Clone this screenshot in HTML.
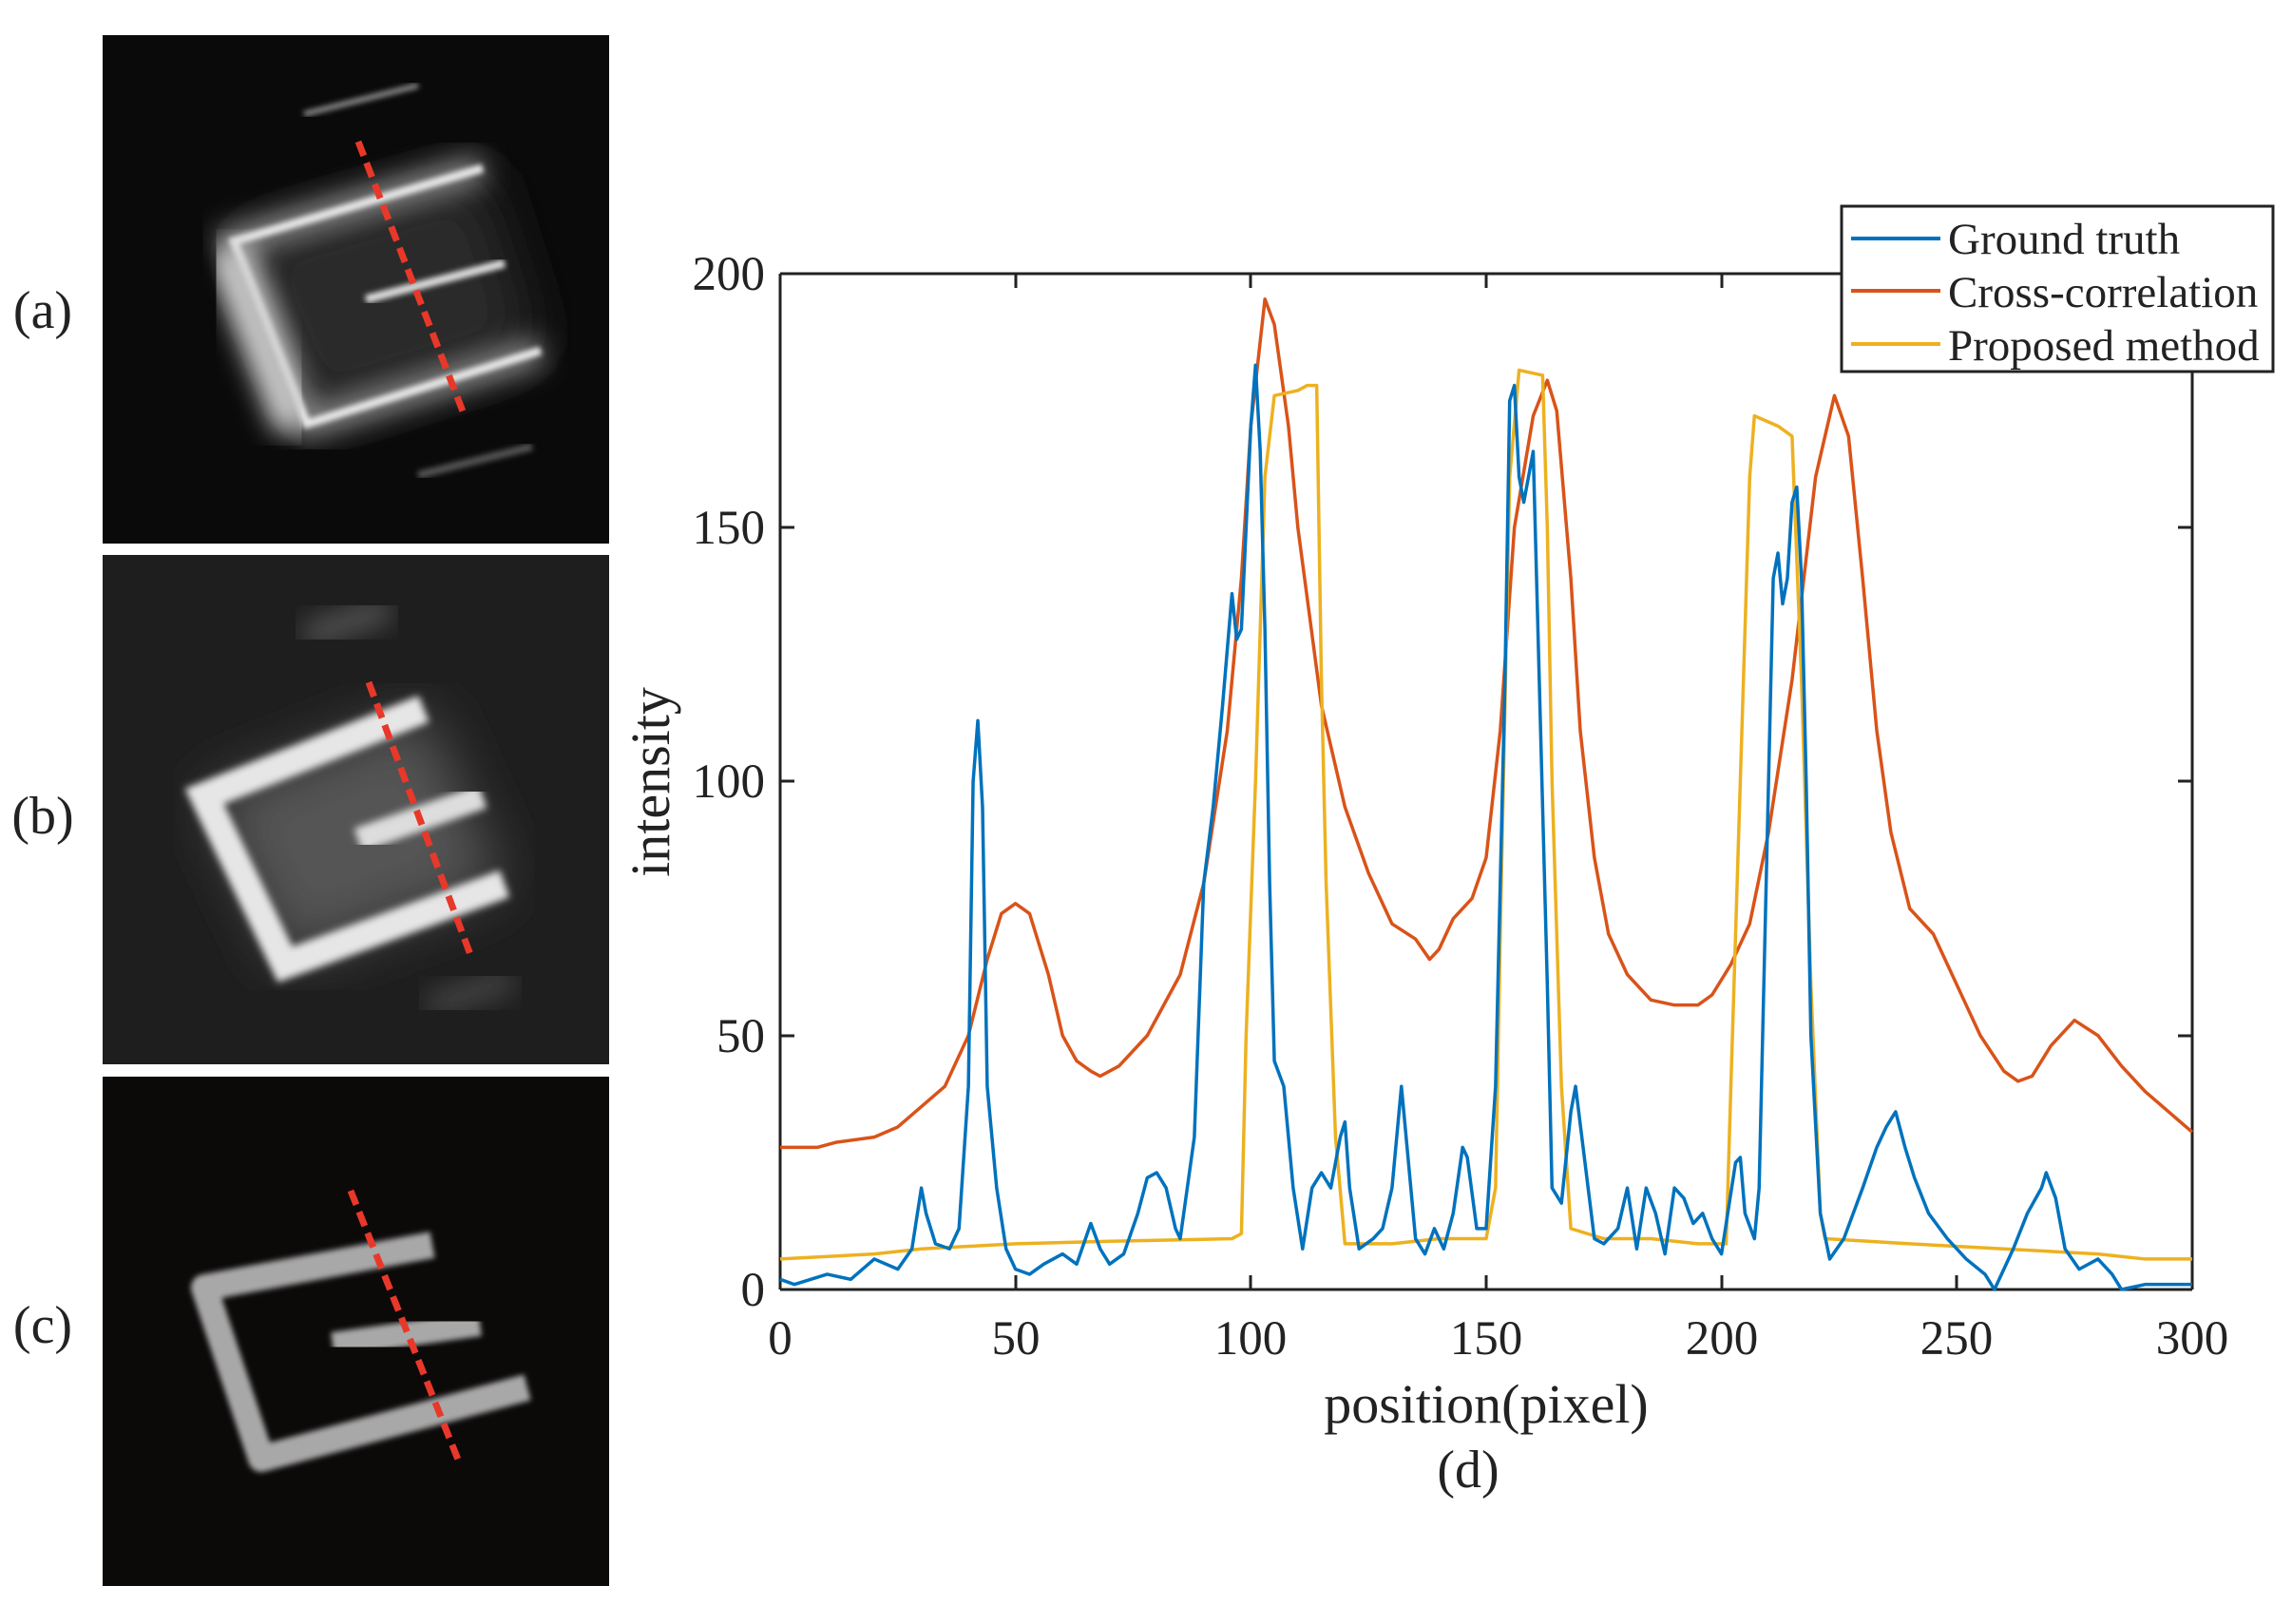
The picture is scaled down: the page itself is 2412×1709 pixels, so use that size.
<!DOCTYPE html>
<html><head><meta charset="utf-8"><style>
html,body{margin:0;padding:0;background:#fff;}
svg{display:block;}
text{font-family:"Liberation Serif",serif;fill:#222;}
</style></head><body>
<svg width="2412" height="1709" viewBox="0 0 2412 1709" xmlns="http://www.w3.org/2000/svg">
<defs>
<filter id="b1"><feGaussianBlur stdDeviation="4"/></filter>
<filter id="b2"><feGaussianBlur stdDeviation="14"/></filter>
<filter id="b3"><feGaussianBlur stdDeviation="3"/></filter>
<filter id="b4"><feGaussianBlur stdDeviation="30"/></filter>
<clipPath id="ca"><rect x="108" y="37" width="533" height="535"/></clipPath>
<clipPath id="cb"><rect x="108" y="584" width="533" height="536"/></clipPath>
<clipPath id="cc"><rect x="108" y="1133" width="533" height="536"/></clipPath>
</defs>
<g clip-path="url(#ca)">
<rect x="108" y="37" width="533" height="535" fill="#0a0a0a"/>
<polygon points="246,254 508,177 569,369 323,446" fill="#2a2a2a" filter="url(#b4)"/>
<polyline points="508,177 246,254 323,446 569,369" fill="none" stroke="#888" stroke-width="30" filter="url(#b2)"/>
<polyline points="508,177 246,254 323,446 569,369" fill="none" stroke="#e8e8e8" stroke-width="9" filter="url(#b3)"/>
<line x1="235" y1="260" x2="310" y2="450" stroke="#ccc" stroke-width="40" filter="url(#b2)"/>
<line x1="385" y1="315" x2="531" y2="277" stroke="#ddd" stroke-width="9" filter="url(#b3)"/>
<line x1="320" y1="120" x2="440" y2="90" stroke="#888" stroke-width="6" filter="url(#b3)"/>
<line x1="440" y1="500" x2="560" y2="470" stroke="#555" stroke-width="8" filter="url(#b3)"/>
<line x1="377" y1="149" x2="489" y2="438" stroke="#e8382a" stroke-width="7" stroke-dasharray="16,8"/>
</g>
<g clip-path="url(#cb)">
<rect x="108" y="584" width="533" height="536" fill="#1e1e1e"/>
<polygon points="215,838 446,746 531,930 300,1015" fill="#555" filter="url(#b4)"/>
<polyline points="446,746 215,838 300,1015 531,930" fill="none" stroke="#e6e6e6" stroke-width="30" filter="url(#b1)"/>
<line x1="377" y1="884" x2="508" y2="838" stroke="#ddd" stroke-width="26" filter="url(#b1)"/>
<line x1="320" y1="670" x2="410" y2="640" stroke="#555" stroke-width="26" filter="url(#b2)"/>
<line x1="450" y1="1060" x2="540" y2="1030" stroke="#444" stroke-width="26" filter="url(#b2)"/>
<line x1="388" y1="718" x2="497" y2="1010" stroke="#e8382a" stroke-width="7" stroke-dasharray="16,8"/>
</g>
<g clip-path="url(#cc)">
<rect x="108" y="1133" width="533" height="536" fill="#0c0909"/>
<polyline points="455,1310 215,1355 275,1535 555,1460" fill="none" stroke="#a8a8a8" stroke-width="28" stroke-linejoin="round" filter="url(#b3)"/>
<line x1="350" y1="1415" x2="505" y2="1393" stroke="#a8a8a8" stroke-width="26" filter="url(#b3)"/>
<line x1="369" y1="1253" x2="484" y2="1541" stroke="#e8382a" stroke-width="7" stroke-dasharray="16,8"/>
</g>
<text x="45" y="345" font-size="56" text-anchor="middle">(a)</text>
<text x="45" y="877" font-size="56" text-anchor="middle">(b)</text>
<text x="45" y="1413" font-size="56" text-anchor="middle">(c)</text>

<g stroke="#222" stroke-width="3">
<line x1="821" y1="288" x2="821" y2="1357"/>
<line x1="2307" y1="288" x2="2307" y2="1357"/>
<line x1="821" y1="288" x2="2307" y2="288"/>
<line x1="821" y1="1357" x2="2307" y2="1357"/>
</g>
<g stroke="#222" stroke-width="3">
<path d="M1069,1357v-15M1316,1357v-15M1564,1357v-15M1812,1357v-15M2059,1357v-15M1069,288v15M1316,288v15M1564,288v15M1812,288v15M2059,288v15"/>
<path d="M821,1090h15M821,822h15M821,555h15M2307,1090h-15M2307,822h-15M2307,555h-15"/>
</g>
<g font-size="51" text-anchor="end">
<text x="805" y="1374">0</text><text x="805" y="1107">50</text><text x="805" y="839">100</text><text x="805" y="572">150</text><text x="805" y="305">200</text>
</g>
<g font-size="51" text-anchor="middle">
<text x="821" y="1425">0</text><text x="1069" y="1425">50</text><text x="1316" y="1425">100</text><text x="1564" y="1425">150</text><text x="1812" y="1425">200</text><text x="2059" y="1425">250</text><text x="2307" y="1425">300</text>
</g>
<text x="1564" y="1497" font-size="58" text-anchor="middle">position(pixel)</text>
<text x="1545" y="1565" font-size="56" text-anchor="middle">(d)</text>
<text transform="translate(704,823) rotate(-90)" font-size="58" text-anchor="middle">intensity</text>

<g transform="translate(821,1357) scale(4.953,-5.345)" fill="none" stroke-width="3.5" stroke-linejoin="round">
<polyline vector-effect="non-scaling-stroke" stroke="#d95319" points="0,28 8,28 12,29 20,30 25,32 30,36 35,40 40,50 44,65 47,74 50,76 53,74 57,62 60,50 63,45 66,43 68,42 72,44 78,50 85,62 90,80 95,110 98,140 100,170 103,195 105,190 108,170 110,150 115,115 120,95 125,82 130,72 135,69 138,65 140,67 143,73 147,77 150,85 153,110 156,150 160,172 163,179 165,173 168,140 170,110 173,85 176,70 180,62 185,57 190,56 195,56 198,58 202,64 206,72 210,90 215,120 220,160 224,176 227,168 230,140 233,110 236,90 240,75 245,70 250,60 255,50 260,43 263,41 266,42 270,48 275,53 280,50 285,44 290,39 295,35 300,31"/>
<polyline vector-effect="non-scaling-stroke" stroke="#edb120" points="0,6 20,7 30,8 50,9 70,9.5 96,10 98,11 99,50 101,100 103,160 105,176 110,177 112,178 114,178 115,120 116,80 118,30 120,9 130,9 140,10 150,10 152,20 153,70 155,160 157,181 162,180 163,150 164,100 166,40 168,12 175,10 185,10 195,9 201,9 202,40 204,100 206,160 207,172 212,170 215,168 217,120 219,60 221,15 222,10 240,9 260,8 280,7 290,6 300,6"/>
<polyline vector-effect="non-scaling-stroke" stroke="#0072bd" points="0,2 3,1 10,3 15,2 20,6 25,4 28,8 30,20 31,15 33,9 36,8 38,12 40,40 41,100 42,112 43,95 44,40 46,20 48,8 50,4 53,3 56,5 60,7 63,5 66,13 68,8 70,5 73,7 76,15 78,22 80,23 82,20 84,12 85,10 88,30 90,80 92,95 94,115 96,137 97,128 98,130 100,170 101,182 102,165 103,130 104,80 105,45 107,40 109,20 111,8 113,20 115,23 117,20 119,30 120,33 121,20 123,8 126,10 128,12 130,20 132,40 133,30 135,10 137,7 139,12 141,8 143,15 145,28 146,26 148,12 150,12 152,40 154,120 155,175 156,178 157,160 158,155 160,165 161,130 163,60 164,20 166,17 168,35 169,40 171,25 173,10 175,9 178,12 180,20 182,8 184,20 186,15 188,7 190,20 192,18 194,13 196,15 198,10 200,7 203,25 204,26 205,15 207,10 208,20 210,100 211,140 212,145 213,135 214,140 215,155 216,158 217,140 218,100 219,50 221,15 223,6 226,10 230,20 233,28 235,32 237,35 239,28 241,22 244,15 248,10 252,6 256,3 258,0 262,8 265,15 268,20 269,23 271,18 273,8 276,4 280,6 283,3 285,0 290,1 300,1"/>
</g>

<rect x="1938" y="217" width="454" height="174" fill="#fff" stroke="#222" stroke-width="3"/>
<g stroke-width="4">
<line x1="1948" y1="251" x2="2042" y2="251" stroke="#0072bd"/>
<line x1="1948" y1="306" x2="2042" y2="306" stroke="#d95319"/>
<line x1="1948" y1="362" x2="2042" y2="362" stroke="#edb120"/>
</g>
<g font-size="47">
<text x="2050" y="267">Ground truth</text>
<text x="2050" y="323">Cross-correlation</text>
<text x="2050" y="379">Proposed method</text>
</g>
</svg>
</body></html>
